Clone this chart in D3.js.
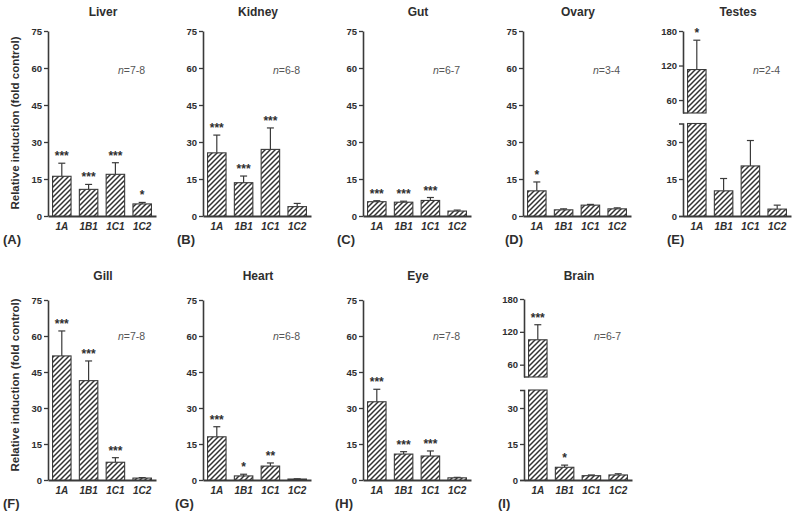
<!DOCTYPE html>
<html><head><meta charset="utf-8">
<script src="https://cdn.jsdelivr.net/npm/d3@7"></script>
<style>
body{margin:0;background:#fff}
svg{display:block}
text{font-family:"Liberation Sans",Arial,Helvetica,sans-serif;fill:#2e2e2e}
</style>
</head><body>
<svg id="chart" width="800" height="521"></svg>
<script>
// ---------- data ----------
const categories = ["1A", "1B1", "1C1", "1C2"];
const tissues = ["Liver", "Kidney", "Gut", "Ovary", "Testes", "Gill", "Heart", "Eye", "Brain"];
const panelLetters = ["(A)", "(B)", "(C)", "(D)", "(E)", "(F)", "(G)", "(H)", "(I)"];
const sampleSizes = ["7-8", "6-8", "6-7", "3-4", "2-4", "7-8", "6-8", "7-8", "6-7"];

const liverMean   = [16.1, 10.8, 16.9, 4.9];
const liverUpper  = [21.4, 12.8, 21.6, 5.5];
const liverStars  = ["***", "***", "***", "*"];

const kidneyMean  = [25.6, 13.5, 27.0, 3.8];
const kidneyUpper = [32.8, 16.2, 35.7, 5.1];
const kidneyStars = ["***", "***", "***", ""];

const gutMean     = [5.8, 5.6, 6.3, 2.0];
const gutUpper    = [6.2, 6.0, 7.5, 2.4];
const gutStars    = ["***", "***", "***", ""];

const ovaryMean   = [10.2, 2.5, 4.4, 2.9];
const ovaryUpper  = [13.8, 2.9, 4.7, 3.3];
const ovaryStars  = ["*", "", "", ""];

const testesMean  = [113, 10.2, 20.3, 2.8];
const testesUpper = [164, 15.2, 30.6, 4.4];
const testesStars = ["*", "", "", ""];

const gillMean    = [51.7, 41.4, 7.4, 0.8];
const gillUpper   = [62.1, 49.6, 9.3, 1.0];
const gillStars   = ["***", "***", "***", ""];

const heartMean   = [18.0, 1.7, 5.8, 0.4];
const heartUpper  = [22.2, 2.4, 7.1, 0.5];
const heartStars  = ["***", "*", "**", ""];

const eyeMean     = [32.6, 10.8, 10.0, 0.9];
const eyeUpper    = [37.8, 11.8, 12.1, 1.1];
const eyeStars    = ["***", "***", "***", ""];

const brainMean   = [105.5, 5.3, 1.8, 2.1];
const brainUpper  = [133, 6.2, 2.1, 2.6];
const brainStars  = ["***", "*", "", ""];

const linearTicks = [0, 15, 30, 45, 60, 75];
const lowerTicks  = [0, 15, 30];
const upperTicks  = [60, 120, 180];
const linearMax = 75, breakValue = 37.5, brokenMax = 180;

const yLabel = "Relative induction (fold control)";

// ---------- layout ----------
const rows = [
  {y0: 216, yTop: 31, upTop: 31, upBottom: 113, titleY: 16, letterY: 244, nY: 74, labelY: 123},
  {y0: 480, yTop: 300, upTop: 299, upBottom: 377, titleY: 280, letterY: 508, nY: 340, labelY: 385}
];
const panels = [
  {mean: liverMean,  upper: liverUpper,  stars: liverStars,  row: 0, ax: 48,  lx: 3,   broken: false},
  {mean: kidneyMean, upper: kidneyUpper, stars: kidneyStars, row: 0, ax: 203, lx: 177, broken: false},
  {mean: gutMean,    upper: gutUpper,    stars: gutStars,    row: 0, ax: 363, lx: 337, broken: false},
  {mean: ovaryMean,  upper: ovaryUpper,  stars: ovaryStars,  row: 0, ax: 523, lx: 505, broken: false},
  {mean: testesMean, upper: testesUpper, stars: testesStars, row: 0, ax: 683, lx: 667, broken: true},
  {mean: gillMean,   upper: gillUpper,   stars: gillStars,   row: 1, ax: 48,  lx: 3,   broken: false},
  {mean: heartMean,  upper: heartUpper,  stars: heartStars,  row: 1, ax: 203, lx: 175, broken: false},
  {mean: eyeMean,    upper: eyeUpper,    stars: eyeStars,    row: 1, ax: 363, lx: 335, broken: false},
  {mean: brainMean,  upper: brainUpper,  stars: brainStars,  row: 1, ax: 524, lx: 498, broken: true}
];

const svg = d3.select("#chart");
const ink = "#3a3a3a";

// hatch pattern
svg.append("defs").append("pattern")
  .attr("id", "hatch").attr("patternUnits", "userSpaceOnUse")
  .attr("width", 5).attr("height", 5)
  .call(p => {
    p.append("rect").attr("width", 5).attr("height", 5).attr("fill", "#fff");
    p.append("path").attr("d", "M-1,6 L6,-1 M-2,2 L2,-2 M3,7 L7,3")
      .attr("stroke", "#333").attr("stroke-width", 1.5);
  });

function styleAxis(g) {
  g.selectAll("path.domain").attr("stroke", ink).attr("stroke-width", 1.6);
  g.selectAll(".tick line").attr("stroke", ink).attr("stroke-width", 1.3);
  g.selectAll(".tick text").attr("font-size", 9.5).attr("font-weight", "bold")
    .attr("fill", "#2e2e2e").attr("font-family", "'Liberation Sans',Arial,sans-serif");
}

rows.forEach(r => {
  svg.append("text")
    .attr("transform", `translate(16,${r.labelY}) rotate(-90)`)
    .attr("text-anchor", "middle").attr("dominant-baseline", "middle")
    .attr("font-size", 11.5).attr("font-weight", "bold").text(yLabel);
});

panels.forEach((p, i) => {
  const r = rows[p.row];
  const g = svg.append("g");
  const x = d3.scaleBand().domain(categories).range([p.ax, p.ax + 108])
    .paddingInner(0.31).paddingOuter(0.17);

  let yLower, yUpper;
  if (!p.broken) {
    yLower = d3.scaleLinear().domain([0, linearMax]).range([r.y0, r.yTop]);
    g.append("g").attr("transform", `translate(${p.ax},0)`)
      .call(d3.axisLeft(yLower).tickValues(linearTicks).tickSize(4).tickSizeOuter(0).tickPadding(2))
      .call(styleAxis);
  } else {
    const pxPerUnit = (r.y0 - r.yTop) / linearMax;
    yLower = d3.scaleLinear().domain([0, breakValue]).range([r.y0, r.y0 - breakValue * pxPerUnit]);
    yUpper = d3.scaleLinear().domain([breakValue, brokenMax]).range([r.upBottom, r.upTop]);
    g.append("g").attr("transform", `translate(${p.ax},0)`)
      .call(d3.axisLeft(yLower).tickValues(lowerTicks).tickSize(4).tickSizeOuter(4).tickPadding(2))
      .call(styleAxis);
    g.append("g").attr("transform", `translate(${p.ax},0)`)
      .call(d3.axisLeft(yUpper).tickValues(upperTicks).tickSize(4).tickSizeOuter(0).tickPadding(2))
      .call(styleAxis);
    g.append("line").attr("x1", p.ax).attr("x2", x("1A"))
      .attr("y1", yUpper(breakValue)).attr("y2", yUpper(breakValue))
      .attr("stroke", ink).attr("stroke-width", 1.4);
  }
  const yOf = v => (p.broken && v > breakValue) ? yUpper(v) : yLower(v);

  // x axis
  g.append("g").attr("transform", `translate(0,${r.y0})`)
    .call(d3.axisBottom(x).tickSize(0).tickSizeOuter(0).tickPadding(7))
    .call(ax => {
      ax.select("path.domain").attr("stroke", ink).attr("stroke-width", 1.8);
      ax.selectAll(".tick text").attr("font-size", 10).attr("font-weight", "bold")
        .attr("font-style", "italic").attr("fill", "#2e2e2e")
        .attr("font-family", "'Liberation Sans',Arial,sans-serif");
    });

  categories.forEach((c, j) => {
    const v = p.mean[j], u = p.upper[j];
    const bx = x(c), bw = x.bandwidth(), cx = bx + bw / 2;
    // error bar
    const yTopErr = yOf(u);
    g.append("line").attr("x1", cx).attr("x2", cx).attr("y1", yOf(v)).attr("y2", yTopErr)
      .attr("stroke", ink).attr("stroke-width", 1.2);
    g.append("line").attr("x1", cx - 3.5).attr("x2", cx + 3.5).attr("y1", yTopErr).attr("y2", yTopErr)
      .attr("stroke", ink).attr("stroke-width", 1.2);
    // bars
    if (p.broken && v > breakValue) {
      g.append("rect").attr("x", bx).attr("width", bw)
        .attr("y", yLower(breakValue)).attr("height", yLower(0) - yLower(breakValue))
        .attr("fill", "url(#hatch)").attr("stroke", ink).attr("stroke-width", 1.1);
      g.append("rect").attr("x", bx).attr("width", bw)
        .attr("y", yUpper(v)).attr("height", yUpper(breakValue) - yUpper(v))
        .attr("fill", "url(#hatch)").attr("stroke", ink).attr("stroke-width", 1.1);
    } else {
      g.append("rect").attr("x", bx).attr("width", bw)
        .attr("y", yLower(v)).attr("height", yLower(0) - yLower(v))
        .attr("fill", "url(#hatch)").attr("stroke", ink).attr("stroke-width", 1.1);
    }
    if (p.stars[j]) {
      g.append("text").attr("x", cx).attr("y", yTopErr - 3)
        .attr("text-anchor", "middle").attr("font-size", 12).attr("font-weight", "bold")
        .text(p.stars[j]);
    }
  });

  // title
  g.append("text").attr("x", p.ax + 55).attr("y", r.titleY)
    .attr("text-anchor", "middle").attr("font-size", 12).attr("font-weight", "bold")
    .text(tissues[i]);
  // n
  const nt = g.append("text").attr("x", p.ax + 70).attr("y", r.nY)
    .attr("font-size", 10.5).attr("fill", "#555");
  nt.append("tspan").attr("font-style", "italic").attr("fill", "#555").text("n");
  nt.append("tspan").attr("fill", "#555").text("=" + sampleSizes[i]);
  // letter
  g.append("text").attr("x", p.lx).attr("y", r.letterY)
    .attr("font-size", 13).attr("font-weight", "bold").text(panelLetters[i]);
});
</script>
</body></html>
